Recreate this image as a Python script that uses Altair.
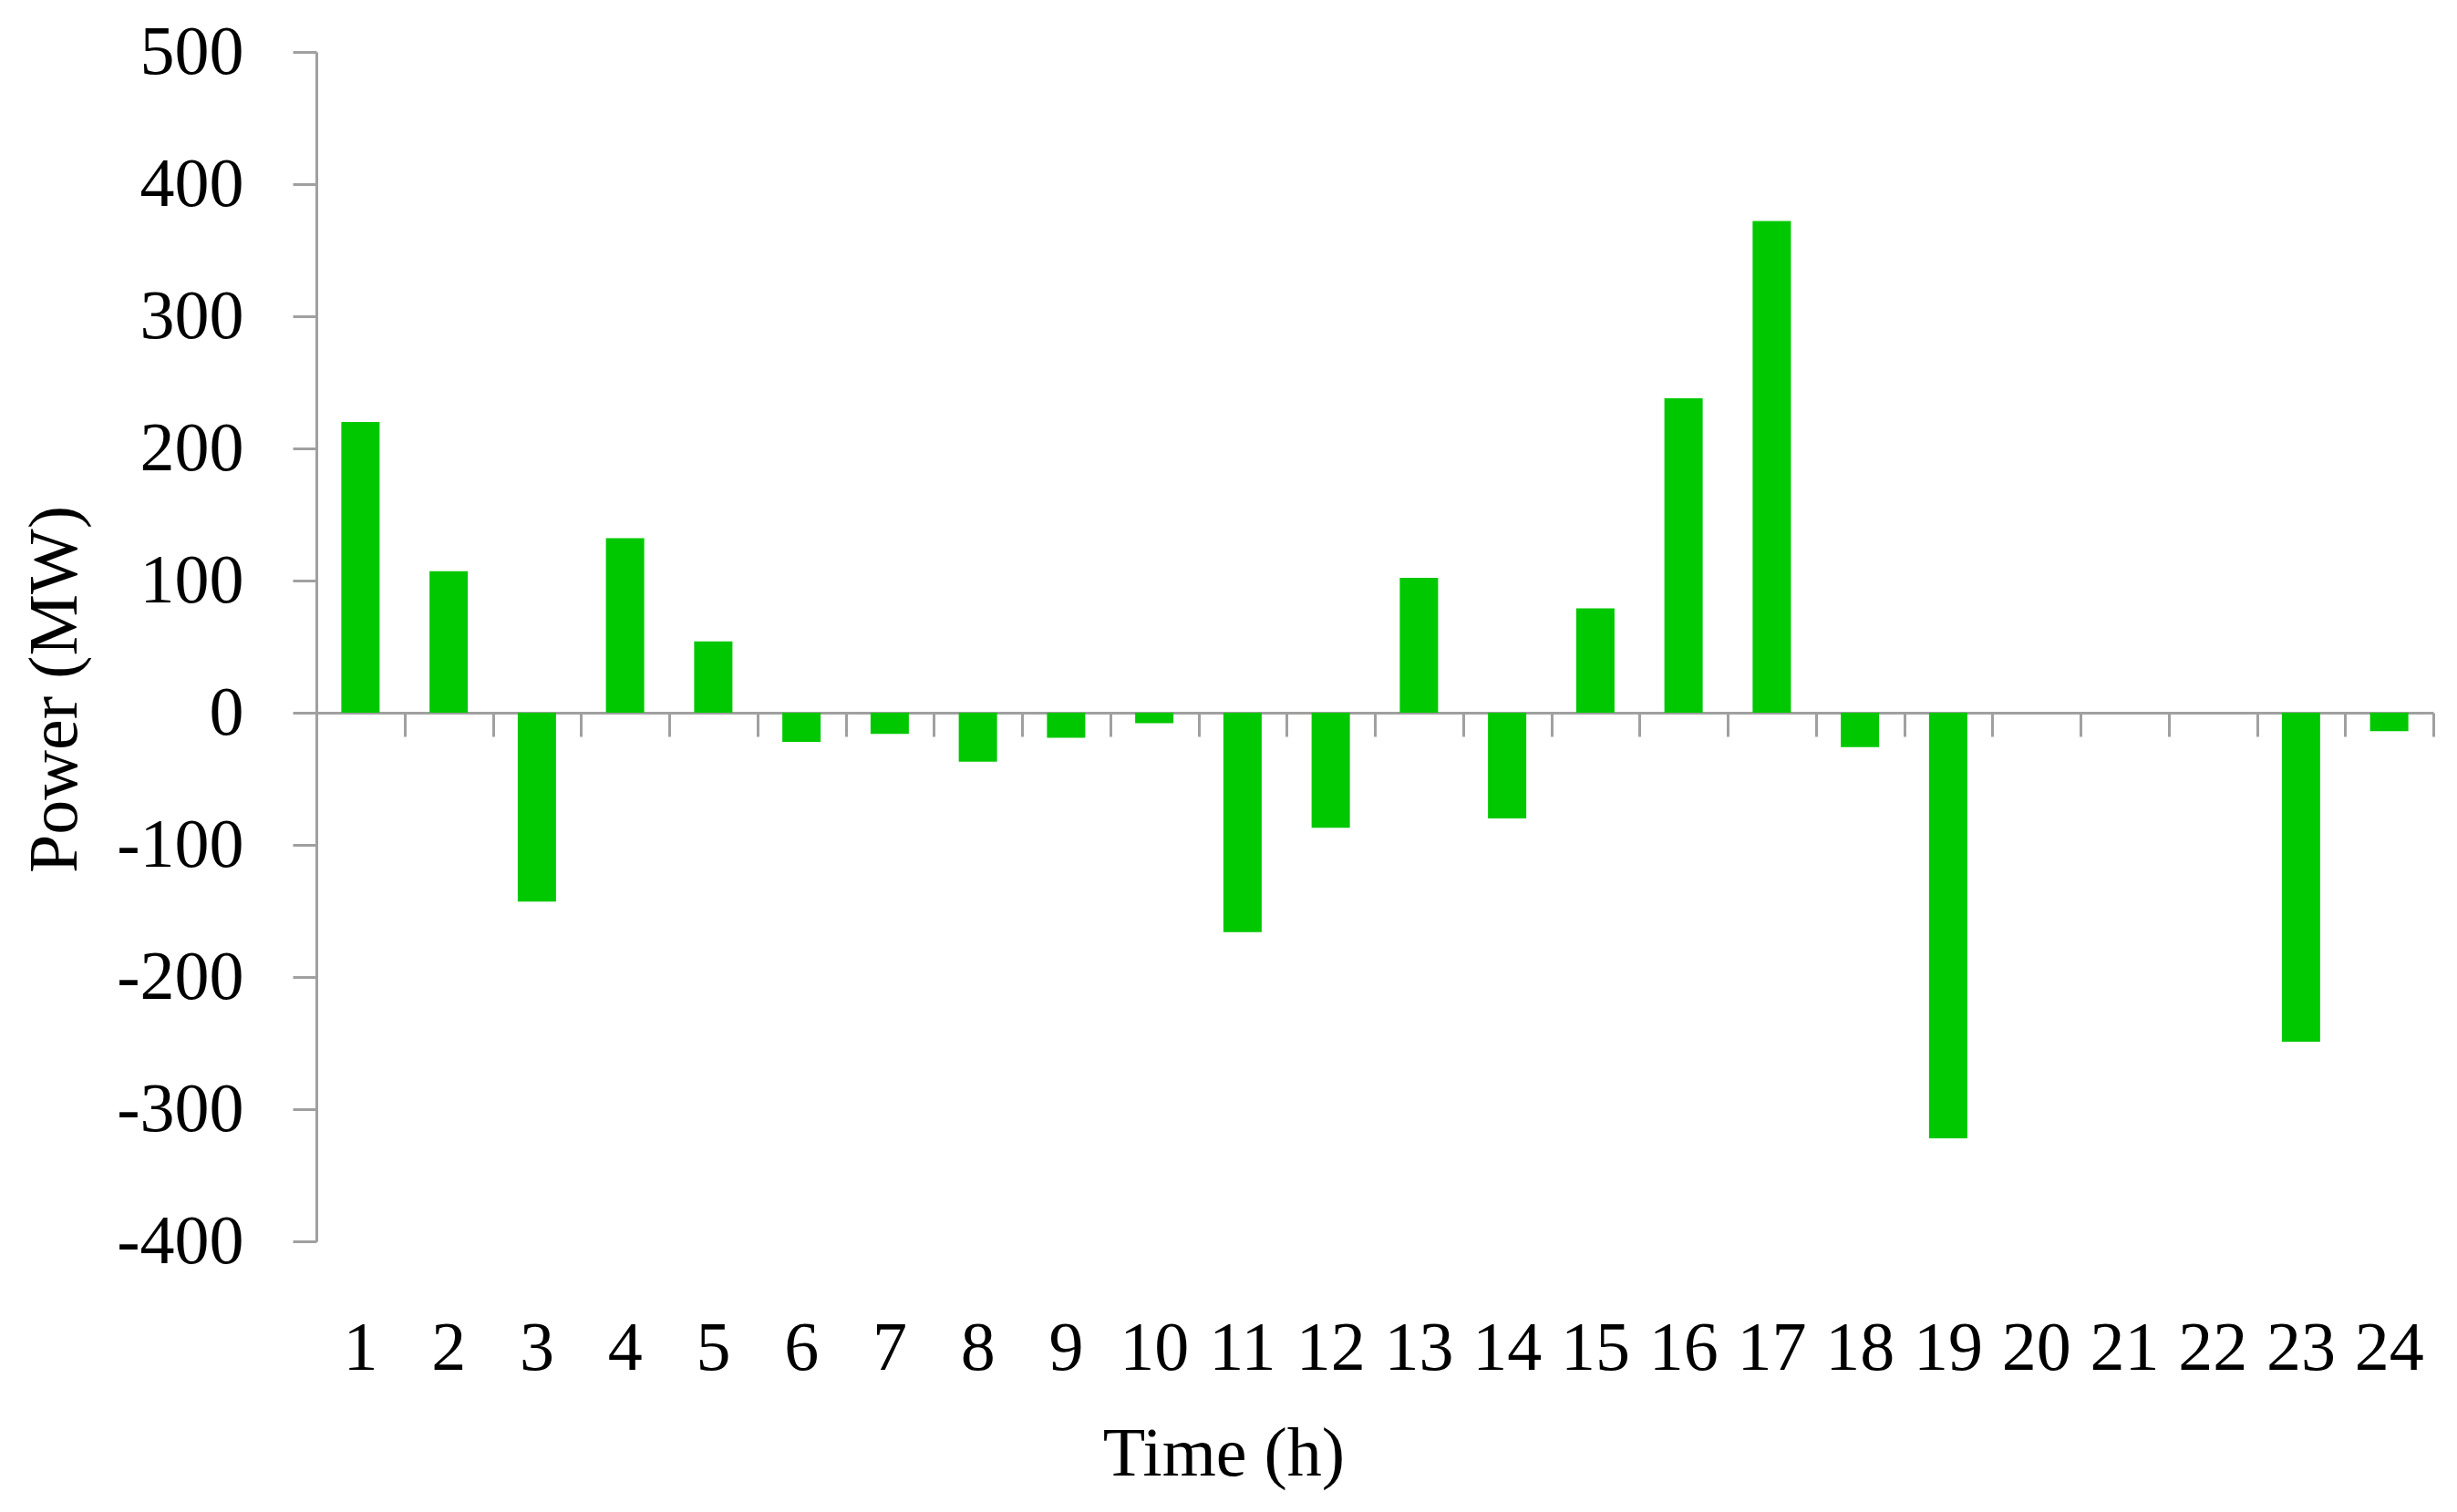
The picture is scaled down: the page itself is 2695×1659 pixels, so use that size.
import altair as alt
import pandas as pd

hours = list(range(1, 25))
power = [220, 107, -143, 132, 54, -22, -16, -37, -19, -8, -166, -87,
         102, -80, 79, 238, 372, -26, -322, 0, 0, 0, -249, -14]
y_ticks = [-400, -300, -200, -100, 0, 100, 200, 300, 400, 500]

df = pd.DataFrame({"t": hours, "v": power})

W, H = 2322, 1305
FONT = "Liberation Serif"
FS = 76
GRAY = "#A0A0A0"

xscale = alt.Scale(paddingInner=0, paddingOuter=0)

bars = alt.Chart(df).mark_bar(size=42, color="#00C800").encode(
    x=alt.X("t:O", scale=xscale, axis=alt.Axis(
        orient="bottom",
        title="Time (h)", labelAngle=0, labelFont=FONT, labelFontSize=FS,
        labelColor="black", labelPadding=80, ticks=False, tickSize=0,
        domain=False, titleFont=FONT, titleFontSize=FS, titleFontWeight="normal",
        titleColor="black", titleX=995, titleY=233, titleBaseline="middle",
        titleAlign="center")),
    y=alt.Y("v:Q", scale=alt.Scale(domain=[-400, 500], nice=False, zero=False),
            axis=alt.Axis(
                values=y_ticks, grid=False, title="Power (MW)",
                labelExpr="replace(datum.label, '\u2212', '-')",
                labelFont=FONT, labelFontSize=FS, labelColor="black",
                labelPadding=54, tickSize=26, tickColor=GRAY, tickWidth=3,
                domainColor=GRAY, domainWidth=3,
                titleFont=FONT, titleFontSize=FS, titleFontWeight="normal",
                titleColor="black", titleX=-287, titleY=699,
                titleBaseline="middle", titleAlign="center", titleAngle=270)),
)

zero_axis = alt.Chart(df).mark_rule(opacity=0).encode(
    x=alt.X("t:O", scale=xscale, axis=alt.Axis(
        orient="bottom",
        title=None, labels=False, offset=-(H * 4 / 9), tickBand="extent",
        tickSize=26, tickColor=GRAY, tickWidth=3,
        domainColor=GRAY, domainWidth=3)),
)

chart = alt.layer(zero_axis, bars).resolve_axis(x="independent").properties(
    width=W, height=H,
    background="white",
    autosize=alt.AutoSizeParams(type="none"),
    padding={"left": 339, "top": 49, "right": 18, "bottom": 280},
).configure_view(strokeWidth=0, stroke=None)

chart.save("out.html", embed_options={"renderer": "svg", "actions": False})
